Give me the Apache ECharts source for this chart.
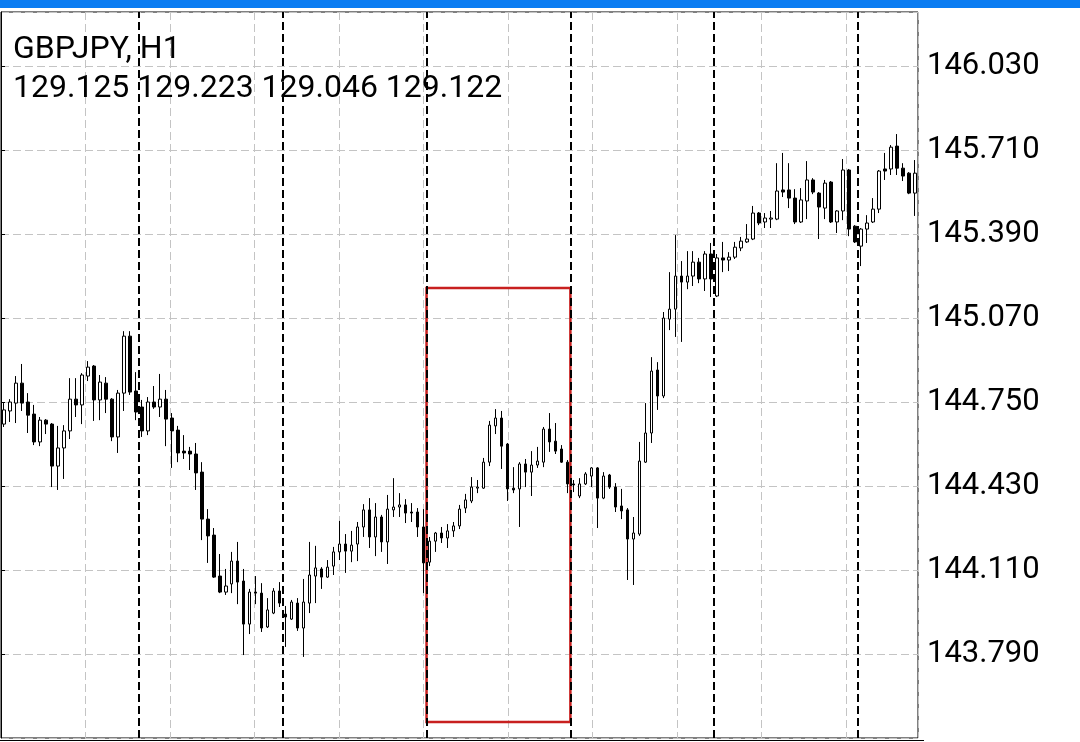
<!DOCTYPE html>
<html><head><meta charset="utf-8">
<script src="https://cdn.jsdelivr.net/npm/echarts@6/dist/echarts.min.js"></script>
<style>html,body{margin:0;padding:0;background:#fff}#c{width:1080px;height:742px}</style>
</head><body><div id="c"></div>
<script>
const symbolLabel = 'GBPJPY, H1';
const headerValues = ['129.125', '129.223', '129.046', '129.122'];

const opens = [
144.666,144.716,144.746,144.822,144.750,144.704,144.598,144.681,144.666,144.506,
144.575,144.640,144.761,144.739,144.849,144.887,144.758,144.822,144.761,144.617,
144.784,145.001,144.792,144.731,144.640,144.750,144.731,144.761,144.689,144.643,
144.563,144.563,144.552,144.483,144.304,144.243,144.087,144.026,144.057,144.144,
144.068,143.904,144.026,144.022,143.893,143.946,144.030,143.942,143.923,143.984,
143.889,143.984,144.087,144.114,144.083,144.125,144.179,144.209,144.182,144.209,
144.274,144.339,144.236,144.312,144.217,144.339,144.350,144.358,144.331,144.331,
144.274,144.140,144.220,144.251,144.232,144.259,144.278,144.346,144.373,144.422,
144.422,144.521,144.659,144.689,144.590,144.422,144.419,144.514,144.483,144.510,
144.521,144.647,144.601,144.571,144.521,144.438,144.392,144.438,144.468,144.499,
144.384,144.472,144.426,144.354,144.339,144.228,144.247,144.521,144.632,144.872,
144.773,145.066,145.104,145.230,145.207,145.230,145.283,145.219,145.314,145.154,
145.299,145.291,145.302,145.337,145.360,145.371,145.470,145.436,145.447,145.447,
145.558,145.558,145.527,145.436,145.516,145.596,145.546,145.489,145.588,145.436,
145.478,145.634,145.420,145.344,145.409,145.436,145.485,145.638,145.638,145.725,
145.641,145.622,145.546
];
const highs = [
144.746,144.761,144.849,144.895,144.784,144.739,144.693,144.685,144.670,144.659,
144.662,144.841,144.841,144.860,144.906,144.891,144.853,144.845,144.765,144.796,
145.020,145.020,144.864,144.758,144.769,144.811,144.857,144.796,144.708,144.659,
144.624,144.579,144.594,144.521,144.342,144.270,144.171,144.114,144.179,144.217,
144.114,144.038,144.087,144.060,144.003,144.041,144.064,143.973,143.996,144.003,
144.076,144.217,144.202,144.121,144.148,144.198,144.297,144.247,144.259,144.293,
144.361,144.384,144.365,144.320,144.396,144.460,144.403,144.380,144.365,144.346,
144.342,144.236,144.255,144.274,144.285,144.293,144.358,144.400,144.464,144.453,
144.537,144.678,144.723,144.716,144.594,144.502,144.521,144.533,144.563,144.579,
144.655,144.708,144.670,144.586,144.529,144.453,144.460,144.483,144.502,144.502,
144.483,144.476,144.441,144.419,144.346,144.312,144.598,144.746,144.921,144.902,
145.093,145.245,145.386,145.287,145.325,145.325,145.299,145.325,145.356,145.314,
145.360,145.321,145.360,145.379,145.428,145.497,145.474,145.470,145.478,145.660,
145.699,145.660,145.561,145.565,145.668,145.603,145.550,145.596,145.592,145.481,
145.676,145.638,145.424,145.413,145.462,145.527,145.634,145.699,145.729,145.771,
145.660,145.626,145.672
];
const lows = [
144.655,144.674,144.670,144.716,144.632,144.586,144.582,144.628,144.426,144.415,
144.457,144.609,144.693,144.666,144.830,144.678,144.681,144.708,144.601,144.556,
144.716,144.777,144.681,144.617,144.624,144.724,144.693,144.582,144.499,144.521,
144.533,144.491,144.415,144.224,144.137,144.080,144.022,144.015,144.022,143.980,
143.786,143.866,143.980,143.874,143.889,143.942,143.969,143.817,143.920,143.878,
143.779,143.946,143.984,144.038,144.080,144.091,144.148,144.099,144.140,144.144,
144.236,144.194,144.163,144.179,144.133,144.312,144.312,144.289,144.293,144.236,
144.022,144.125,144.179,144.213,144.194,144.236,144.266,144.327,144.365,144.403,
144.419,144.506,144.628,144.495,144.373,144.403,144.274,144.426,144.392,144.499,
144.502,144.560,144.552,144.518,144.403,144.407,144.384,144.434,144.426,144.270,
144.380,144.419,144.331,144.304,144.072,144.053,144.240,144.518,144.594,144.720,
144.765,145.024,144.998,144.979,145.180,145.192,145.203,145.173,145.150,145.150,
145.245,145.249,145.295,145.325,145.356,145.367,145.424,145.413,145.413,145.443,
145.531,145.489,145.428,145.432,145.447,145.542,145.371,145.447,145.432,145.394,
145.443,145.382,145.356,145.268,145.356,145.432,145.470,145.596,145.615,145.615,
145.592,145.542,145.459
];
const closes = [
144.720,144.750,144.822,144.746,144.700,144.598,144.681,144.666,144.506,144.575,
144.640,144.761,144.739,144.853,144.883,144.758,144.826,144.761,144.617,144.784,
145.001,144.788,144.712,144.640,144.750,144.731,144.761,144.685,144.640,144.556,
144.556,144.552,144.480,144.304,144.240,144.083,144.026,144.049,144.144,144.064,
143.904,144.026,144.022,143.889,143.958,144.030,143.984,143.931,143.988,143.889,
143.988,144.091,144.118,144.083,144.121,144.179,144.209,144.182,144.205,144.274,
144.339,144.236,144.312,144.217,144.342,144.350,144.358,144.327,144.327,144.274,
144.137,144.220,144.251,144.232,144.259,144.278,144.342,144.377,144.426,144.426,
144.521,144.662,144.689,144.582,144.419,144.415,144.514,144.483,144.510,144.525,
144.647,144.598,144.563,144.521,144.438,144.434,144.438,144.476,144.499,144.384,
144.468,144.426,144.350,144.335,144.228,144.251,144.525,144.632,144.868,144.773,
145.070,145.104,145.230,145.207,145.230,145.283,145.219,145.314,145.219,145.299,
145.291,145.302,145.340,145.363,145.371,145.470,145.432,145.451,145.451,145.554,
145.550,145.527,145.436,145.520,145.596,145.550,145.493,145.584,145.436,145.478,
145.634,145.409,145.360,145.409,145.432,145.485,145.630,145.630,145.721,145.641,
145.611,145.546,145.622
];

const daySeparators = [23, 47, 71, 95, 119, 143];
const boxBars = [71, 95];
const boxPrices = [145.184, 143.531];
const priceTicks = [143.790, 144.110, 144.430, 144.750, 145.070, 145.390, 145.710, 146.030];

const categories = opens.map((_, i) => String(i));
const candleData = opens.map((o, i) => [o, closes[i], lows[i], highs[i]]);
const tickStep = priceTicks[1] - priceTicks[0];

const chart = echarts.init(document.getElementById('c'), null, {renderer: 'canvas'});
const option = {
  animation: false,
  backgroundColor: '#ffffff',
  grid: {left: 1, right: 162, top: 12, bottom: 4, show: true, borderColor: '#000', borderWidth: 1, backgroundColor: 'transparent'},
  xAxis: [
    {type: 'category', data: categories, boundaryGap: true, axisLine: {show: false}, axisTick: {show: false}, axisLabel: {show: false}, splitLine: {show: false}},
    {type: 'value', min: 0, max: opens.length, show: false},
    {type: 'value', min: 0, max: 917, interval: 84.5, axisLine: {show: false}, axisTick: {show: false}, axisLabel: {show: false},
     splitLine: {show: true, lineStyle: {color: '#c4c4c4', width: 1, type: [8, 4]}}}
  ],
  yAxis: {
    type: 'value', position: 'right',
    min: +(priceTicks[0] - tickStep).toFixed(3), max: 146.236, interval: +tickStep.toFixed(3),
    axisLine: {show: true, lineStyle: {color: '#000', width: 1}},
    axisTick: {show: true, length: 4, lineStyle: {color: '#000'}},
    axisLabel: {color: '#000', fontSize: 31, fontFamily: 'Roboto', margin: 9, padding: [4, 0, 0, 0],
                showMinLabel: false, showMaxLabel: false, formatter: v => v.toFixed(3)},
    splitLine: {show: true, lineStyle: {color: '#c4c4c4', width: 1, type: [8, 4]}}
  },
  series: [
    {type: 'line', xAxisIndex: 1, data: [], z: 2, silent: true,
     markLine: {silent: true, animation: false, symbol: ['none', 'none'], label: {show: false},
       lineStyle: {color: '#000', type: [8, 4], width: 2},
       data: daySeparators.map(v => ({xAxis: v}))}},
    {type: 'candlestick', xAxisIndex: 0, data: candleData, barWidth: 3, z: 3,
     itemStyle: {color: '#ffffff', color0: '#000000', borderColor: '#000000', borderColor0: '#000000', borderWidth: 1}},
    {type: 'line', xAxisIndex: 1, data: [], z: 5, silent: true,
     markArea: {silent: true, animation: false,
       itemStyle: {color: 'rgba(0,0,0,0)', borderColor: '#c8201f', borderWidth: 2.5},
       data: [[{xAxis: boxBars[0], yAxis: boxPrices[0]}, {xAxis: boxBars[1], yAxis: boxPrices[1]}]]}}
  ],
  graphic: [
    {type: 'rect', left: 0, top: 0, shape: {width: 1080, height: 8}, style: {fill: '#0a7cf2'}, z: 10},
    {type: 'line', shape: {x1: 0, y1: 740.5, x2: 924, y2: 740.5}, style: {stroke: '#000', lineWidth: 1}, z: 10},
    {type: 'text', style: {x: 13, y: 50, text: symbolLabel, font: '32px Roboto', fill: '#000', verticalAlign: 'middle'}, z: 10},
    {type: 'text', style: {x: 13, y: 89, text: headerValues.join(' '), font: '32px Roboto', fill: '#000', verticalAlign: 'middle'}, z: 10}
  ]
};
chart.setOption(option);
</script></body></html>
